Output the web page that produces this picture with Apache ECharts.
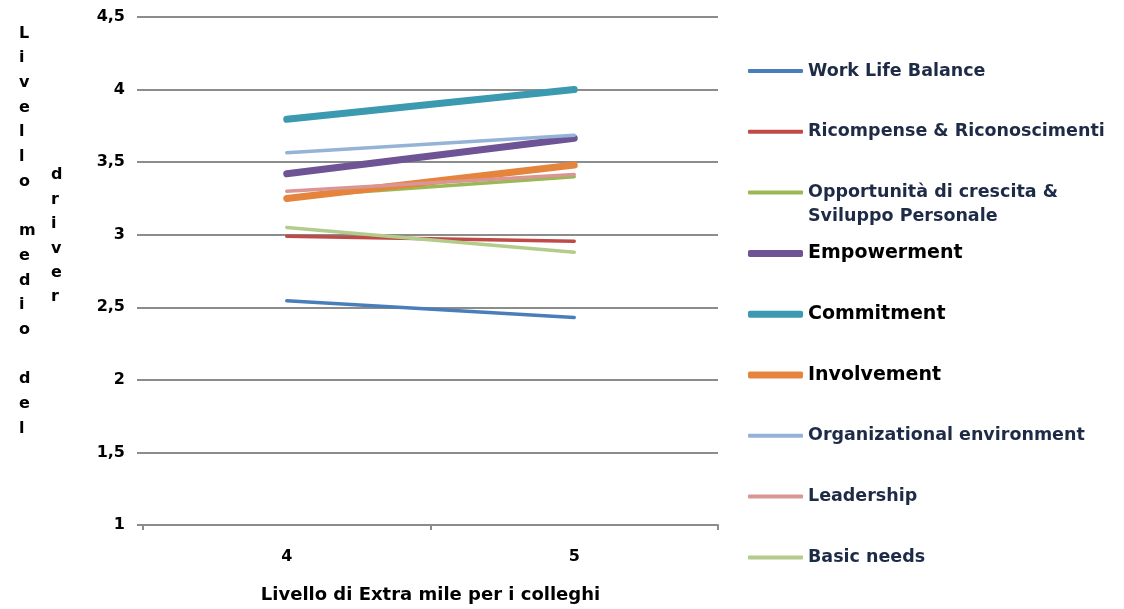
<!DOCTYPE html>
<html>
<head>
<meta charset="utf-8">
<script src="https://cdn.jsdelivr.net/npm/echarts@6/dist/echarts.min.js"></script>
<style>
  html, body { margin: 0; padding: 0; background: #fff; }
  #chart { width: 1124px; height: 609px; }
</style>
</head>
<body>
<div id="chart"></div>
<script>
// Average driver score by "extra mile" level
const categories = ['4', '5'];

const workLifeBalance = [2.545, 2.43];
const ricompense = [2.99, 2.955];
const opportunita = [3.26, 3.40];
const empowerment = [3.42, 3.665];
const commitment = [3.795, 4.0];
const involvement = [3.25, 3.48];
const orgEnvironment = [3.565, 3.685];
const leadership = [3.30, 3.415];
const basicNeeds = [3.05, 2.88];

const seriesNames = [
  'Work Life Balance',
  'Ricompense & Riconoscimenti',
  'Opportunità di crescita &\nSviluppo Personale',
  'Empowerment',
  'Commitment',
  'Involvement',
  'Organizational environment',
  'Leadership',
  'Basic needs'
];
const seriesValues = [
  workLifeBalance, ricompense, opportunita, empowerment, commitment,
  involvement, orgEnvironment, leadership, basicNeeds
];
const seriesColors = [
  '#4A7EBB', '#BE4B48', '#98B954', '#6E5494', '#3B99B0',
  '#E5843C', '#95B3D7', '#D99694', '#B3CC8C'
];
const strong = [false, false, false, true, true, true, false, false, false];

const yTitleMain = 'Livello medio del';
const yTitleSecond = 'driver';
const xTitle = 'Livello di Extra mile per i colleghi';

const chart = echarts.init(document.getElementById('chart'), null, { renderer: 'canvas' });

const font = 'DejaVu Sans';
const gridGray = '#8C8C8C';

const series = seriesNames.map((name, i) => ({
  name,
  type: 'line',
  data: seriesValues[i],
  symbol: 'none',
  showSymbol: false,
  lineStyle: {
    color: seriesColors[i],
    width: strong[i] ? 7 : 3.5,
    cap: 'round'
  },
  itemStyle: { color: seriesColors[i] },
  emphasis: { disabled: true },
  z: 2 + i
}));

// one legend block per entry so every row sits on a steady pitch;
// a two-line name gets a blank leading line so its marker lines up with the first line
const legends = seriesNames.map((name, i) => {
  const centerY = 71 + i * 60.8;
  const twoLine = name.indexOf('\n') >= 0;
  return {
    left: 748,
    top: twoLine ? centerY - 36 : centerY - 10,
    padding: 0,
    orient: 'vertical',
    itemWidth: 55,
    itemHeight: strong[i] ? 7 : 4,
    itemGap: 0,
    formatter: twoLine ? (n => '\n' + n) : (n => n),
    data: [{
      name,
      icon: 'roundRect',
      itemStyle: { color: seriesColors[i], borderWidth: 0 },
      textStyle: {
        fontFamily: font,
        fontWeight: 'bold',
        fontSize: strong[i] ? 19 : 17.5,
        color: strong[i] ? '#000000' : '#1E2B47',
        lineHeight: twoLine ? 24 : 20
      }
    }],
    selectedMode: false
  };
});

const option = {
  backgroundColor: '#ffffff',
  animation: false,
  grid: { left: 143, right: 406, top: 17, bottom: 83, containLabel: false },
  legend: legends,
  xAxis: {
    type: 'category',
    data: categories,
    boundaryGap: true,
    name: xTitle,
    nameLocation: 'middle',
    nameGap: 61,
    nameTextStyle: { fontFamily: font, fontWeight: 'bold', fontSize: 18, color: '#000' },
    axisLine: { show: true, lineStyle: { color: gridGray, width: 2 } },
    axisTick: { show: true, length: 5, lineStyle: { color: gridGray, width: 2 } },
    axisLabel: { margin: 24, fontFamily: font, fontWeight: 'bold', fontSize: 16, color: '#000' },
    splitLine: { show: false }
  },
  yAxis: {
    type: 'value',
    min: 1,
    max: 4.5,
    interval: 0.5,
    axisLine: { show: false },
    axisTick: { show: true, inside: false, length: 6, lineStyle: { color: gridGray, width: 2 } },
    axisLabel: {
      margin: 18,
      fontFamily: font,
      fontWeight: 'bold',
      fontSize: 16,
      color: '#000',
      formatter: v => String(v).replace('.', ',')
    },
    splitLine: { show: true, lineStyle: { color: gridGray, width: 2 } }
  },
  graphic: [
    {
      type: 'text',
      left: 19,
      top: 21,
      style: {
        text: yTitleMain.split('').join('\n'),
        font: 'bold 16px "DejaVu Sans"',
        fill: '#000',
        lineHeight: 24.7,
        align: 'center'
      }
    },
    {
      type: 'text',
      left: 51,
      top: 163,
      style: {
        text: yTitleSecond.split('').join('\n'),
        font: 'bold 16px "DejaVu Sans"',
        fill: '#000',
        lineHeight: 24.4,
        align: 'center'
      }
    }
  ],
  series
};

chart.setOption(option);
</script>
</body>
</html>
